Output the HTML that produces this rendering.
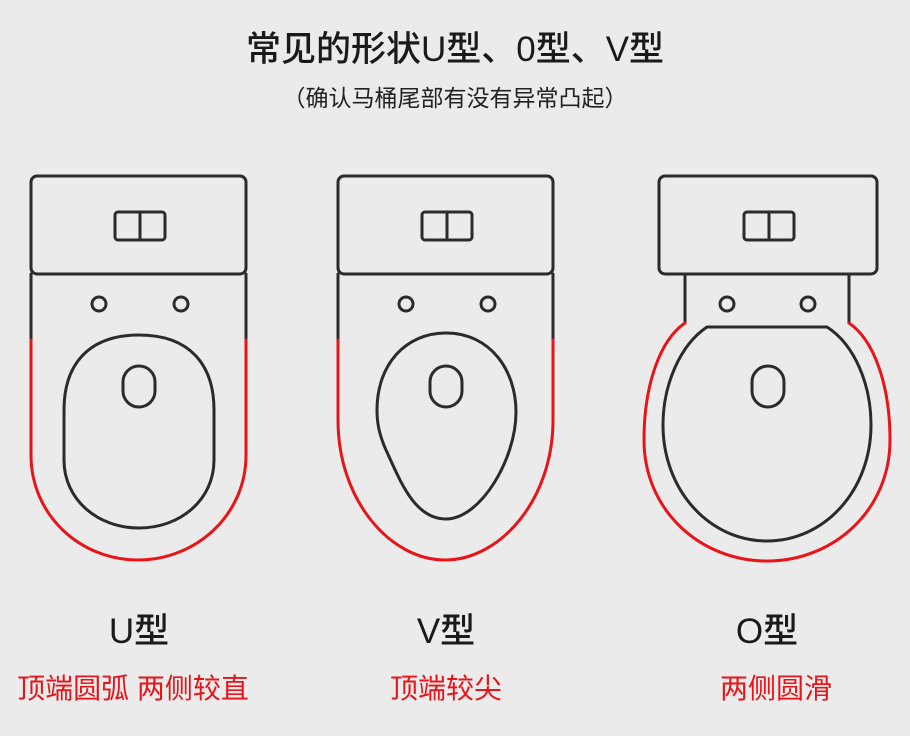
<!DOCTYPE html>
<html><head><meta charset="utf-8"><style>
html,body{margin:0;padding:0;background:#ebebeb;}
svg{display:block;}
text{font-family:"Liberation Sans","Noto Sans CJK SC",sans-serif;}
</style></head><body>
<svg width="910" height="736" viewBox="0 0 910 736" xmlns="http://www.w3.org/2000/svg">
<rect width="910" height="736" fill="#ebebeb"/>
<text x="455" y="61" font-size="35" font-weight="500" text-anchor="middle" fill="#1a1a1a">常见的形状U型、0型、V型</text>
<text x="455" y="106" font-size="23" text-anchor="middle" fill="#222">（确认马桶尾部有没有异常凸起）</text>
<g fill="none" stroke-width="3" stroke-linecap="round" stroke-linejoin="round">
<!-- U -->
<g stroke="#2b2b2b">
<rect x="31" y="176" width="215" height="98" rx="6"/>
<path d="M31 274 V340 M246 274 V340"/>
<rect x="115" y="212" width="50" height="28" rx="3"/><path d="M140 212 V240"/>
<circle cx="99" cy="304" r="7"/><circle cx="181" cy="304" r="7"/>
<path d="M139 335 C190 335 214 365 214 410 V460 C214 500 180 528 139 528 C98 528 64 500 64 460 V410 C64 365 88 335 139 335 Z"/>
<rect x="123" y="366" width="32" height="41" rx="16"/>
</g>
<path stroke="#e8141a" d="M31 340 V455 C31 515 80 560 138 560 C196 560 246 515 246 455 V340"/>
<!-- V -->
<g stroke="#2b2b2b">
<rect x="338" y="176" width="215" height="98" rx="6"/>
<path d="M338 274 V340 M553 274 V340"/>
<rect x="422" y="212" width="50" height="28" rx="3"/><path d="M447 212 V240"/>
<circle cx="406" cy="304" r="7"/><circle cx="488" cy="304" r="7"/>
<path d="M446 333 C490 333 516 370 516 412 C516 460 480 519 446 519 C414 519 400 480 386 450 C378 432 377 420 377 410 C377 365 405 333 446 333 Z"/>
<rect x="430" y="366" width="32" height="41" rx="16"/>
</g>
<path stroke="#e8141a" d="M338 340 V420 C338 500 390 560 445 560 C500 560 553 500 553 420 V340"/>
<!-- O -->
<g stroke="#2b2b2b">
<rect x="659" y="176" width="218" height="98" rx="6"/>
<path d="M685 274 V323 M849 274 V323"/>
<rect x="744" y="212" width="50" height="28" rx="3"/><path d="M769 212 V240"/>
<circle cx="727" cy="304" r="7"/><circle cx="808" cy="304" r="7"/>
<path d="M707 327 H827 C855 345 871 385 871 425 C871 490 825 541 767 541 C709 541 663 490 663 425 C663 385 680 345 707 327 Z"/>
<rect x="752" y="366" width="32" height="41" rx="16"/>
</g>
<path stroke="#e8141a" d="M685 323 C660 340 644 385 644 440 C644 510 700 561 767 561 C834 561 890 510 890 440 C890 385 874 340 849 323"/>
</g>
<text x="139" y="643" font-size="35" font-weight="500" text-anchor="middle" fill="#1a1a1a">U型</text>
<text x="446" y="643" font-size="35" font-weight="500" text-anchor="middle" fill="#1a1a1a">V型</text>
<text x="767" y="643" font-size="35" font-weight="500" text-anchor="middle" fill="#1a1a1a">O型</text>
<text x="133" y="698" font-size="28" text-anchor="middle" fill="#e8141a">顶端圆弧 两侧较直</text>
<text x="446" y="698" font-size="28" text-anchor="middle" fill="#e8141a">顶端较尖</text>
<text x="776" y="698" font-size="28" text-anchor="middle" fill="#e8141a">两侧圆滑</text>
</svg>
</body></html>
